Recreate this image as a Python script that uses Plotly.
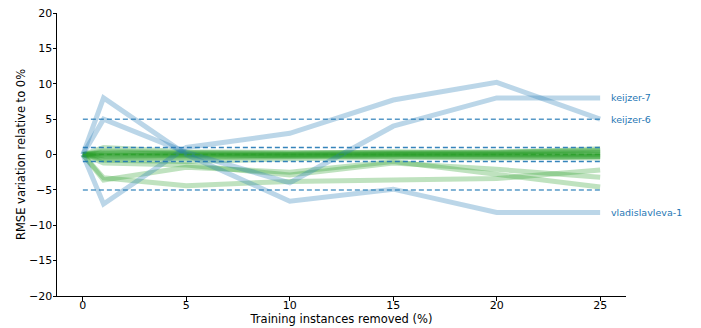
import plotly.graph_objects as go

x_removed = [0, 1, 5, 10, 15, 20, 25]

blue_names = ["keijzer-7", "keijzer-6", "vladislavleva-1"]
keijzer_7 = [0, 5.0, 0.3, -4.0, 4.0, 8.0, 8.0]
keijzer_6 = [0, -7.0, 1.0, 3.0, 7.7, 10.2, 5.0]
vladislavleva_1 = [0, 8.0, 0.0, -6.6, -4.9, -8.2, -8.2]
blue_series = [keijzer_7, keijzer_6, vladislavleva_1]

green_series = [
    [0, 0.3, 0.2, 0.1, 0.4, 0.3, 0.5],
    [0, -0.2, -0.1, 0.0, 0.1, 0.2, 0.3],
    [0, 0.1, 0.0, -0.2, 0.0, -0.1, -0.2],
    [0, -0.4, -0.3, -0.2, -0.3, -0.4, -0.3],
    [0, 1.0, 0.4, 0.3, 0.2, 0.4, 0.6],
    [0, -0.6, -0.5, -0.4, -0.2, -0.3, -0.5],
    [0, 0.2, 0.1, 0.0, 0.1, 0.1, 0.0],
    [0, -0.1, -0.2, -0.1, -0.1, 0.0, 0.1],
    [0, 0.5, 0.3, 0.2, 0.3, 0.2, 0.8],
    [0, -0.8, -1.0, -0.6, -0.4, -0.5, -0.3],
    [0, -3.3, -4.4, -3.8, -3.6, -3.4, -2.2],
    [0, -3.6, -1.8, -2.5, -1.0, -2.8, -4.6],
    [0, -1.2, -1.5, -2.9, -1.2, -2.1, -3.2],
]

thresholds = [5, 1, -1, -5]
y_ticks = [20, 15, 10, 5, 0, -5, -10, -15, -20]
x_ticks = [0, 5, 10, 15, 20, 25]

FONT = "DejaVu Sans"
fig = go.Figure()

for ys in green_series:
    fig.add_trace(go.Scatter(x=x_removed, y=ys, mode="lines",
                             line=dict(color="rgba(44,160,44,0.3)", width=5),
                             showlegend=False, hoverinfo="skip"))

for name, ys in zip(blue_names, blue_series):
    fig.add_trace(go.Scatter(x=x_removed, y=ys, mode="lines", name=name,
                             line=dict(color="rgba(31,119,180,0.3)", width=5),
                             showlegend=False))
    fig.add_annotation(x=25.45, y=ys[-1], text=name, showarrow=False,
                       xanchor="left", yanchor="middle",
                       font=dict(family=FONT, size=9.5, color="#1f77b4"))

for t in thresholds:
    alpha = 0.9 if abs(t) == 1 else 0.75
    fig.add_trace(go.Scatter(x=[x_removed[0], x_removed[-1]], y=[t, t], mode="lines",
                             line=dict(color=f"rgba(31,119,180,{alpha})", width=1.5,
                                       dash="5px,3px"),
                             showlegend=False, hoverinfo="skip"))

fig.add_trace(go.Scatter(x=[x_removed[0], x_removed[-1]], y=[0, 0], mode="lines",
                         line=dict(color="rgba(44,160,44,0.9)", width=1.5, dash="5px,3px"),
                         showlegend=False, hoverinfo="skip"))

axis_common = dict(showgrid=False, zeroline=False, showline=True, linecolor="black",
                   linewidth=1, ticks="outside", ticklen=3.5, tickwidth=1,
                   tickcolor="black", automargin=False,
                   ticklabeloverflow="allow",
                   tickfont=dict(family=FONT, size=11, color="black"))

fig.update_xaxes(range=[-1.25, 26.25], tickvals=x_ticks,
                 ticktext=[str(v) for v in x_ticks], ticklabelstandoff=-5,
                 title=dict(text="Training instances removed (%)",
                            font=dict(family=FONT, size=11.5, color="black"), standoff=0),
                 **axis_common)
fig.update_yaxes(range=[-20, 20], tickvals=y_ticks,
                 ticktext=[str(v).replace("-", "\u2212") for v in y_ticks],
                 ticklabelstandoff=-2,
                 title=dict(text="RMSE variation relative to 0%",
                            font=dict(family=FONT, size=11.5, color="black"), standoff=1),
                 **axis_common)

fig.update_layout(width=693, height=320, autosize=False,
                  margin=dict(l=49, r=75, t=5, b=32),
                  plot_bgcolor="white", paper_bgcolor="white",
                  font=dict(family=FONT))

fig.write_html("out.html")
